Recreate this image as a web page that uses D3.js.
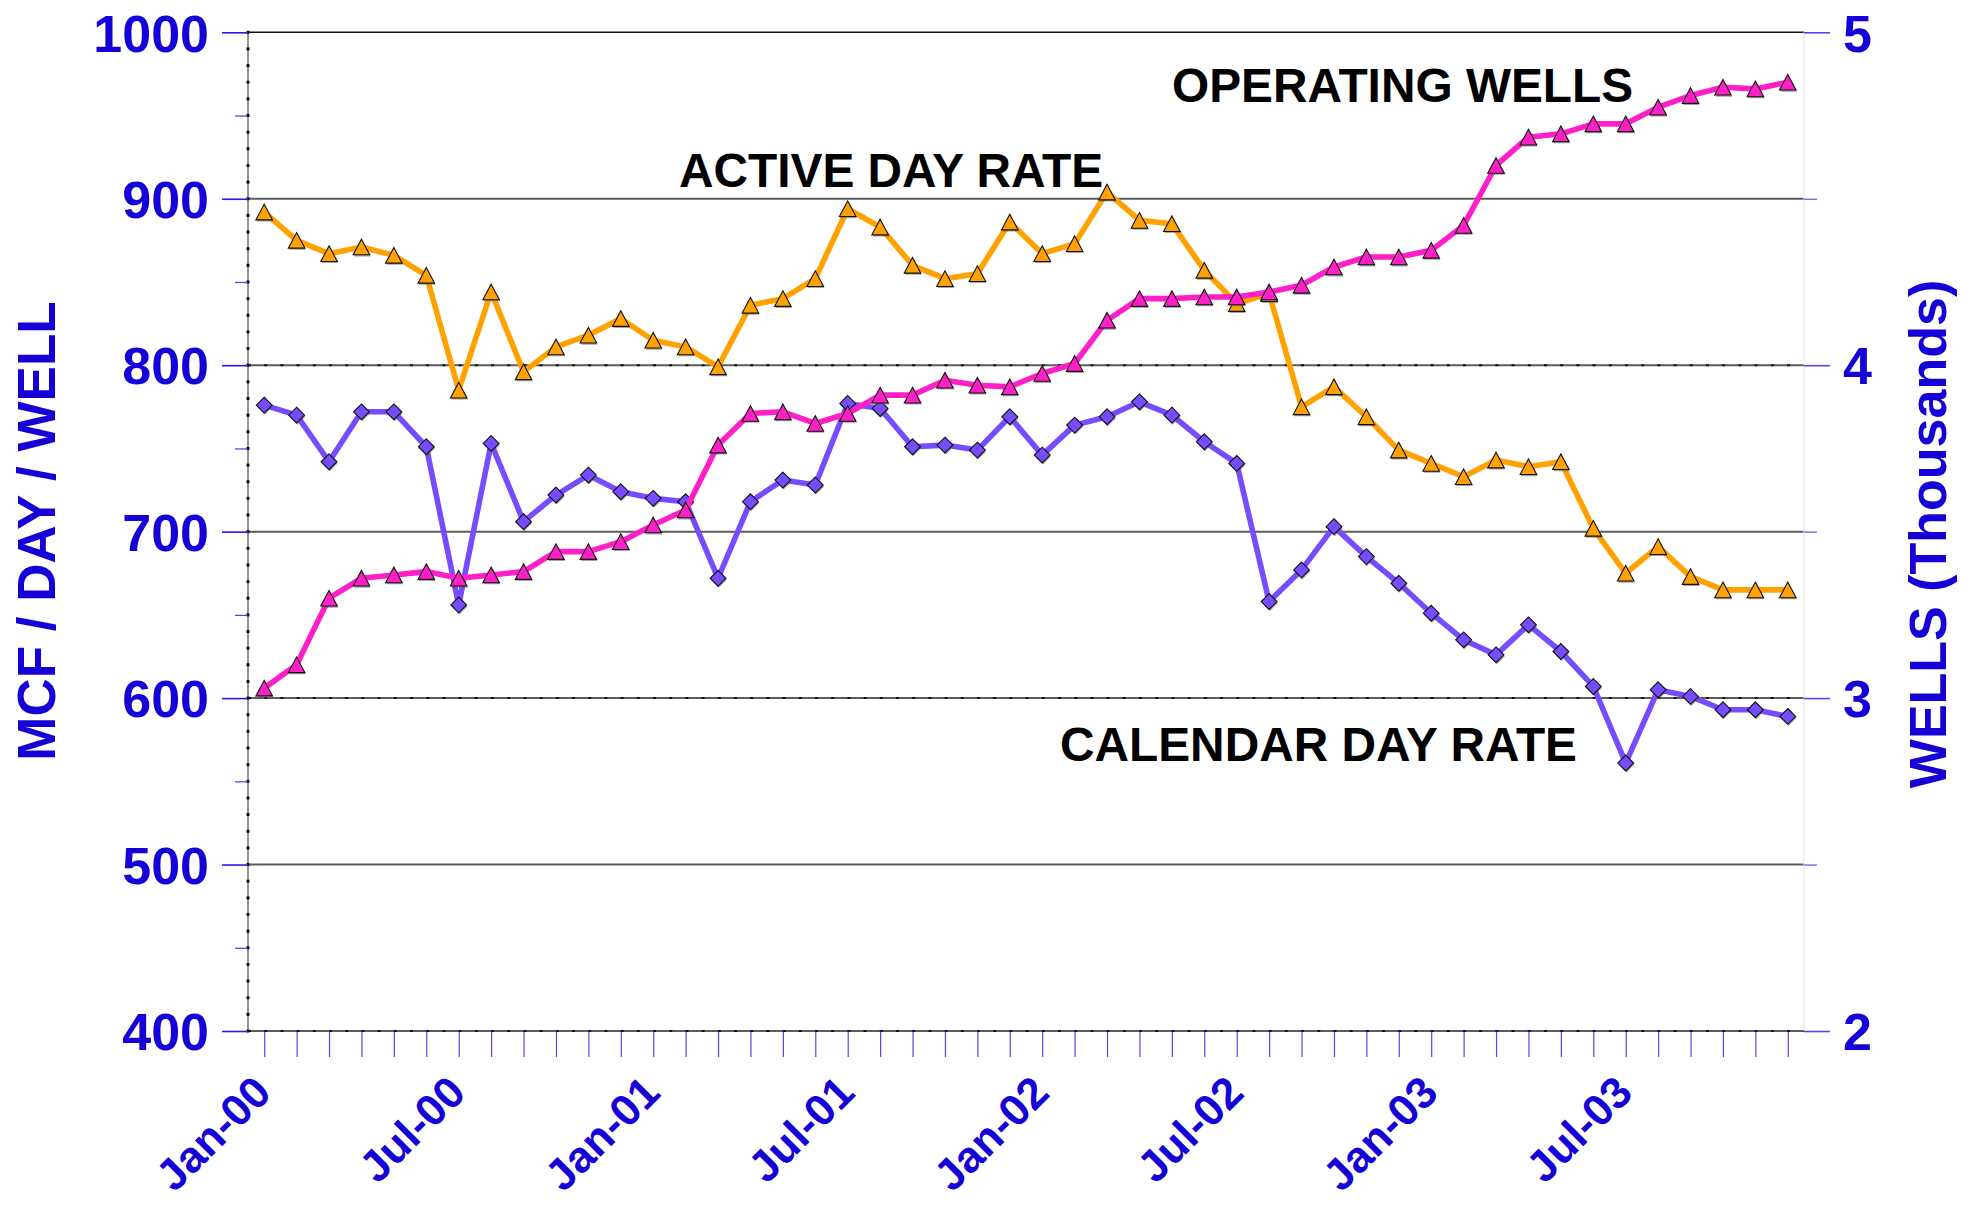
<!DOCTYPE html>
<html>
<head>
<meta charset="utf-8">
<script src="https://cdn.jsdelivr.net/npm/d3@7"></script>
<style>
  html, body { margin: 0; padding: 0; background: #fff; }
  svg { display: block; font-family: "Liberation Sans", Arial, Helvetica, sans-serif; }
</style>
</head>
<body>
<svg id="chart" width="1975" height="1206"></svg>
<script>
// Monthly categories, Jan 2000 – Dec 2003
const months = [
  "Jan-00","Feb-00","Mar-00","Apr-00","May-00","Jun-00","Jul-00","Aug-00","Sep-00","Oct-00","Nov-00","Dec-00",
  "Jan-01","Feb-01","Mar-01","Apr-01","May-01","Jun-01","Jul-01","Aug-01","Sep-01","Oct-01","Nov-01","Dec-01",
  "Jan-02","Feb-02","Mar-02","Apr-02","May-02","Jun-02","Jul-02","Aug-02","Sep-02","Oct-02","Nov-02","Dec-02",
  "Jan-03","Feb-03","Mar-03","Apr-03","May-03","Jun-03","Jul-03","Aug-03","Sep-03","Oct-03","Nov-03","Dec-03"
];
const xTickLabels = ["Jan-00","Jul-00","Jan-01","Jul-01","Jan-02","Jul-02","Jan-03","Jul-03"];

// MCF / day / well (left axis)
const activeDayRate = [
  892, 875, 867, 871, 866, 854, 785, 844, 796, 811, 818, 828,
  815, 811, 799, 836, 840, 852, 894, 883, 860, 852, 855, 886,
  867, 873, 904, 887, 885, 857, 837, 843, 775, 787, 769, 749,
  741, 733, 743, 739, 742, 702, 675, 691, 673, 665, 665, 665
];
const calendarDayRate = [
  776, 770, 742, 772, 772, 751, 656, 753, 706, 722, 734, 724,
  720, 718, 672, 718, 731, 728, 777, 774, 751, 752, 749, 769,
  746, 764, 769, 778, 770, 754, 741, 658, 677, 703, 685, 669,
  651, 635, 626, 644, 628, 607, 561, 605, 601, 593, 593, 589
];
// Operating wells, thousands (right axis)
const operatingWells = [
  3.03, 3.10, 3.30, 3.36, 3.37, 3.38, 3.36, 3.37, 3.38, 3.44, 3.44, 3.47,
  3.52, 3.565, 3.76, 3.855, 3.86, 3.825, 3.855, 3.91, 3.91, 3.955, 3.94, 3.935,
  3.975, 4.005, 4.135, 4.20, 4.20, 4.205, 4.205, 4.22, 4.24, 4.295, 4.325, 4.325,
  4.345, 4.42, 4.60, 4.685, 4.695, 4.725, 4.725, 4.775, 4.81, 4.835, 4.83, 4.85
];

const leftTicks = [400, 500, 600, 700, 800, 900, 1000];
const leftMinorTicks = [450, 550, 650, 750, 850, 950];
const rightTicks = [2, 3, 4, 5];
const rightMinorTicks = [2.5, 3.5, 4.5];

const svg = d3.select("#chart");
const plot = { left: 248, right: 1804, top: 32.3, bottom: 1031 };

const x = d3.scalePoint().domain(months).range([plot.left, plot.right]).padding(0.5);
const yL = d3.scaleLinear().domain([400, 1000]).range([plot.bottom, plot.top]);
const yR = d3.scaleLinear().domain([2, 5]).range([plot.bottom, plot.top]);

const BLUE = "#1500d8";
const TICKBLUE = "#2a18ee";

// horizontal gridlines
svg.append("g").selectAll("line")
  .data(leftTicks)
  .join("line")
  .attr("x1", plot.left).attr("x2", plot.right)
  .attr("y1", d => yL(d)).attr("y2", d => yL(d))
  .attr("stroke", d => d === 1000 ? "#111" : "#5c5c5c")
  .attr("stroke-width", d => d === 1000 ? 1.6 : 2);

// small black marks along some gridlines
svg.append("g").selectAll("line")
  .data([800, 600, 400])
  .join("line")
  .attr("x1", plot.left).attr("x2", plot.right)
  .attr("y1", d => yL(d)).attr("y2", d => yL(d))
  .attr("stroke", "#111").attr("stroke-width", 2)
  .attr("stroke-dasharray", "3,13.2");

// faint right frame
svg.append("line")
  .attr("x1", plot.right).attr("x2", plot.right)
  .attr("y1", plot.top).attr("y2", plot.bottom)
  .attr("stroke", "#e6e6ee").attr("stroke-width", 1.2);

// left axis line with dotted black marks every 10 units
svg.append("line")
  .attr("x1", plot.left).attr("x2", plot.left)
  .attr("y1", plot.top).attr("y2", plot.bottom)
  .attr("stroke", "#707070").attr("stroke-width", 1.5);
svg.append("g").selectAll("rect")
  .data(d3.range(400, 1001, 10))
  .join("rect")
  .attr("x", plot.left - 1.5).attr("width", 3)
  .attr("y", d => yL(d) - 1.5).attr("height", 3)
  .attr("fill", "#111");

// left axis: major and minor ticks
const gLeft = svg.append("g").attr("transform", `translate(${plot.left},0)`)
  .call(d3.axisLeft(yL).tickValues(leftTicks).tickSize(26).tickPadding(13).tickFormat(d3.format("d")));
gLeft.select(".domain").remove();
gLeft.selectAll(".tick line").attr("stroke", TICKBLUE).attr("stroke-width", 1.6);
gLeft.selectAll(".tick text")
  .attr("fill", BLUE).attr("font-size", 52).attr("font-weight", "bold").attr("dy", "0.36em");

const gLeftMinor = svg.append("g").attr("transform", `translate(${plot.left},0)`)
  .call(d3.axisLeft(yL).tickValues(leftMinorTicks).tickSize(13).tickFormat(""));
gLeftMinor.select(".domain").remove();
gLeftMinor.selectAll(".tick line").attr("stroke", TICKBLUE).attr("stroke-width", 1.3).attr("opacity", 0.8);

// right axis
const gRight = svg.append("g").attr("transform", `translate(${plot.right},0)`)
  .call(d3.axisRight(yR).tickValues(rightTicks).tickSize(26).tickPadding(13).tickFormat(d3.format("d")));
gRight.select(".domain").remove();
gRight.selectAll(".tick line").attr("stroke", TICKBLUE).attr("stroke-width", 1.6).attr("opacity", 0.8);
gRight.selectAll(".tick text")
  .attr("fill", BLUE).attr("font-size", 52).attr("font-weight", "bold").attr("dy", "0.36em");

const gRightMinor = svg.append("g").attr("transform", `translate(${plot.right},0)`)
  .call(d3.axisRight(yR).tickValues(rightMinorTicks).tickSize(13).tickFormat(""));
gRightMinor.select(".domain").remove();
gRightMinor.selectAll(".tick line").attr("stroke", TICKBLUE).attr("stroke-width", 1.3).attr("opacity", 0.7);

// bottom axis: a tick per month
const gBottom = svg.append("g").attr("transform", `translate(0,${plot.bottom})`)
  .call(d3.axisBottom(x).tickSize(26).tickFormat(""));
gBottom.select(".domain").remove();
gBottom.selectAll(".tick line").attr("stroke", TICKBLUE).attr("stroke-width", 1.2).attr("opacity", 0.8);

// rotated date labels
svg.append("g").selectAll("text")
  .data(xTickLabels)
  .join("text")
  .attr("transform", d => `translate(${x(d) + 9},1095) rotate(-45)`)
  .attr("text-anchor", "end")
  .attr("fill", BLUE).attr("font-size", 44).attr("font-weight", "bold")
  .text(d => d);

// axis titles
svg.append("text")
  .attr("transform", "translate(55,531) rotate(-90)")
  .attr("text-anchor", "middle")
  .attr("fill", BLUE).attr("font-size", 53).attr("font-weight", "bold")
  .text("MCF / DAY / WELL");
svg.append("text")
  .attr("transform", "translate(1946,534) rotate(-90)")
  .attr("text-anchor", "middle")
  .attr("fill", BLUE).attr("font-size", 52).attr("font-weight", "bold")
  .text("WELLS (Thousands)");

// series
function triPath(cx, cy) {
  const w = 8.3, h = 15.6;
  return `M${cx},${cy - h / 2}L${cx + w},${cy + h / 2}L${cx - w},${cy + h / 2}Z`;
}
function diaPath(cx, cy) {
  const r = 7.9;
  return `M${cx},${cy - r}L${cx + r},${cy}L${cx},${cy + r}L${cx - r},${cy}Z`;
}

function drawSeries(values, yScale, color, shape) {
  const pts = values.map((v, i) => [x(months[i]), yScale(v)]);
  const g = svg.append("g");
  g.append("path")
    .attr("d", d3.line()(pts))
    .attr("fill", "none").attr("stroke", color).attr("stroke-width", 5.6)
    .attr("stroke-linejoin", "round");
  // soft shadow beneath each marker
  g.selectAll("path.s")
    .data(pts)
    .join("path")
    .attr("class", "s")
    .attr("d", p => shape(p[0] + 0.8, p[1] + 1.6))
    .attr("fill", "#666").attr("opacity", 0.6);
  g.selectAll("path.m")
    .data(pts)
    .join("path")
    .attr("class", "m")
    .attr("d", p => shape(p[0], p[1]))
    .attr("fill", color).attr("stroke", "#111").attr("stroke-width", 1.1);
}

drawSeries(activeDayRate, yL, "#ffa200", triPath);
drawSeries(calendarDayRate, yL, "#774cff", diaPath);
drawSeries(operatingWells, yR, "#ff1fc8", triPath);

// series annotations
const notes = [
  { text: "ACTIVE DAY RATE", x: 679, y: 187 },
  { text: "OPERATING WELLS", x: 1172, y: 102 },
  { text: "CALENDAR DAY RATE", x: 1060, y: 761 }
];
svg.append("g").selectAll("text")
  .data(notes)
  .join("text")
  .attr("x", d => d.x).attr("y", d => d.y)
  .attr("fill", "#000").attr("font-size", 47.8).attr("font-weight", "bold")
  .text(d => d.text);
</script>
</body>
</html>
